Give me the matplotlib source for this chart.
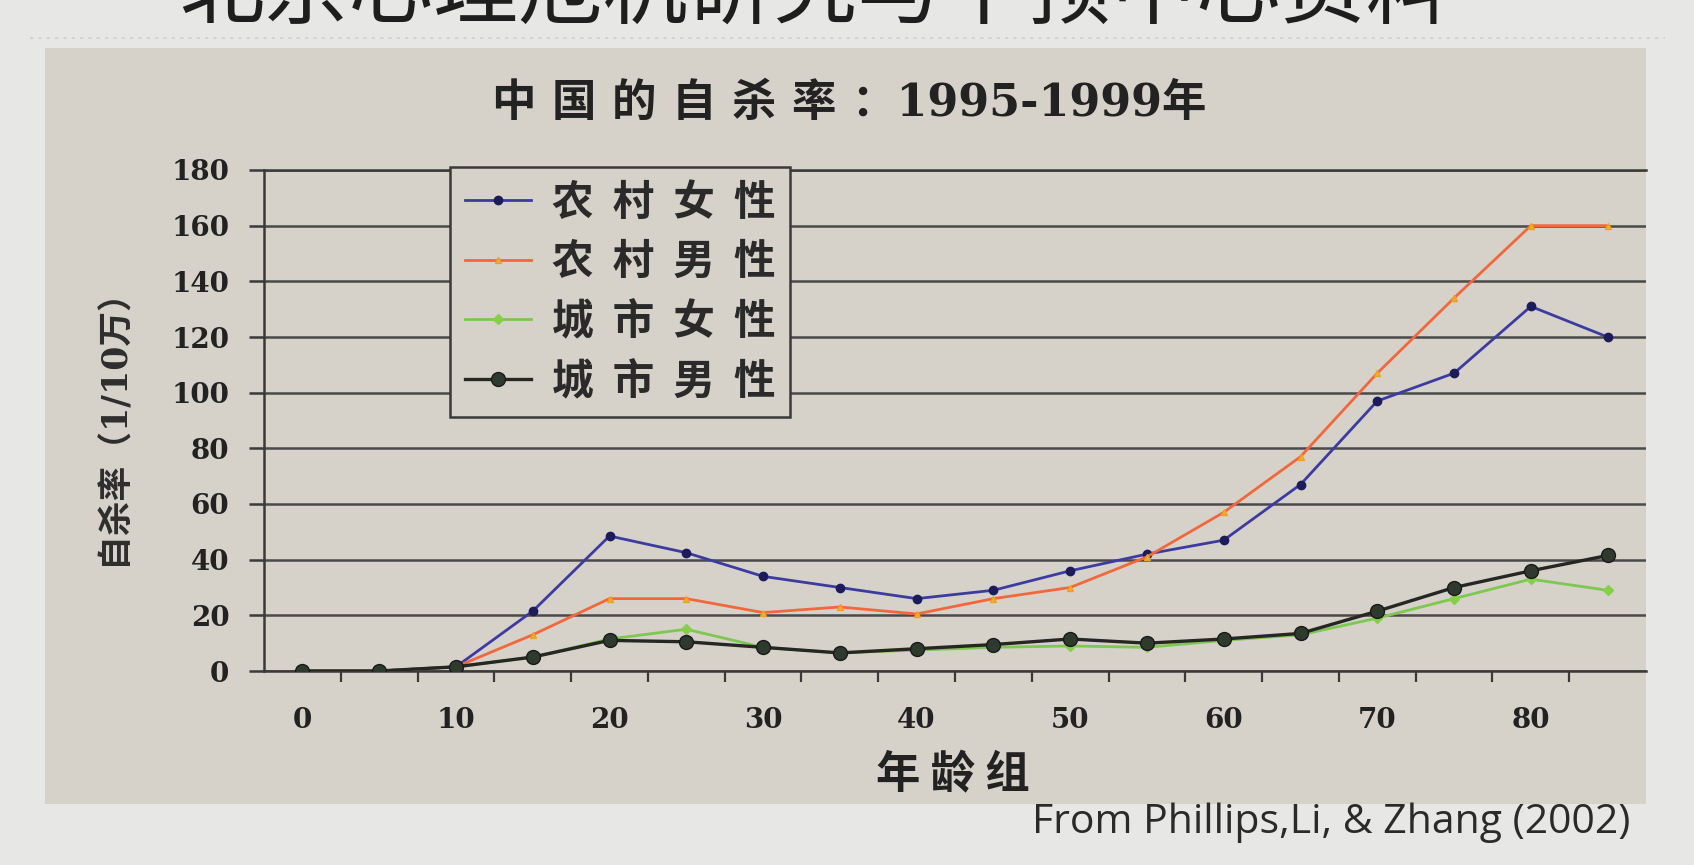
import matplotlib
matplotlib.use("Agg")
import matplotlib.pyplot as plt
from matplotlib.patches import Rectangle
from matplotlib.lines import Line2D

# data
ages = [0, 5, 10, 15, 20, 25, 30, 35, 40, 45, 50, 55, 60, 65, 70, 75, 80, 85]
rural_female = [0, 0, 1.5, 21.5, 48.5, 42.5, 34, 30, 26, 29, 36, 42, 47, 67, 97, 107, 131, 120]
rural_male = [0, 0, 1.5, 13, 26, 26, 21, 23, 20.5, 26, 30, 41, 57, 77, 107, 134, 160, 160]
urban_female = [0, 0, 1.5, 5, 11.5, 15, 8.5, 6.5, 7.5, 8.5, 9, 8.5, 11, 13, 19, 26, 33, 29]
urban_male = [0, 0, 1.5, 5, 11, 10.5, 8.5, 6.5, 8, 9.5, 11.5, 10, 11.5, 13.5, 21.5, 30, 36, 41.5]

series_names = ["农  村  女  性", "农  村  男  性", "城  市  女  性", "城  市  男  性"]
y_ticks = list(range(0, 181, 20))
x_label_ticks = list(range(0, 81, 10))

slide_title = "北京心理危机研究与干预中心资料"
chart_title = "中 国 的 自 杀 率 ：1995-1999年"
x_title = "年 龄 组"
y_title = "自杀率（1/10万）"
credit = "From Phillips,Li, & Zhang (2002)"

W, H = 1694, 865
slide_bg = "#e7e8e6"
panel_bg = "#d6d2ca"
ink = "#3a3a3a"

def fx(px):
    return px / W

def fy(py):
    return 1 - py / H

fig = plt.figure(figsize=(W / 100, H / 100), dpi=100)
fig.patch.set_facecolor(slide_bg)

# slide title, cut off by the top edge
fig.text(fx(815), 1.009, slide_title, ha="center", va="center", fontsize=61,
         family=["Noto Sans CJK SC"], color="#1e1e1e")
fig.add_artist(Line2D([fx(30), fx(1665)], [fy(38), fy(38)], color="#cfcfcf",
                      lw=1.2, ls=(0, (2, 3))))

# chart panel
fig.add_artist(Rectangle((fx(45), fy(804)), fx(1646) - fx(45), fy(48) - fy(804),
                         transform=fig.transFigure, facecolor=panel_bg,
                         edgecolor="none", zorder=0))

ax = fig.add_axes([fx(264), fy(671), fx(1646) - fx(264), fy(170) - fy(671)])
ax.set_facecolor("none")
ax.set_xlim(-2.5, 87.5)
ax.set_ylim(0, 180)

ax.grid(axis="y", color="#4a4a4a", lw=1.8)
ax.set_axisbelow(True)
ax.spines["right"].set_visible(False)
for s in ["left", "bottom", "top"]:
    ax.spines[s].set_color(ink)
    ax.spines[s].set_linewidth(1.8)

tick_font = {"family": "DejaVu Serif", "weight": "bold", "size": 20}
ax.set_yticks(y_ticks)
ax.set_yticklabels([str(v) for v in y_ticks], fontdict=tick_font, color="#222222")
ax.tick_params(axis="y", direction="out", length=11, width=1.8, color=ink, pad=14)
ax.set_xticks(x_label_ticks)
ax.set_xticklabels([str(v) for v in x_label_ticks], fontdict=tick_font, color="#222222")
ax.set_xticks([a + 2.5 for a in ages[:-1]], minor=True)
ax.tick_params(axis="x", which="major", length=0, pad=26)
ax.tick_params(axis="x", which="minor", direction="out", length=8, width=1.6, color=ink)

ax.plot(ages, rural_female, color="#3c3ca0", lw=2, marker="o", ms=6,
        mfc="#1c1c5c", mec="#1c1c5c", label=series_names[0], zorder=3)
ax.plot(ages, rural_male, color="#f2683c", lw=2, marker="^", ms=5,
        mfc="#f0b030", mec="#f0a020", label=series_names[1], zorder=4)
ax.plot(ages, urban_female, color="#7cc850", lw=2, marker="D", ms=5,
        mfc="#86d048", mec="#86d048", label=series_names[2], zorder=5)
ax.plot(ages, urban_male, color="#262622", lw=2.4, marker="o", ms=10,
        mfc="#2f3a2f", mec="#1a1a1a", label=series_names[3], zorder=6)

leg = ax.legend(loc="upper left", bbox_to_anchor=(fx(450), fy(167)),
                bbox_transform=fig.transFigure, borderaxespad=0,
                prop={"family": ["Noto Sans CJK SC"], "size": 30, "weight": "bold"},
                fancybox=False, framealpha=1, facecolor=panel_bg, edgecolor=ink,
                handlelength=1.6, handletextpad=0.5, labelspacing=0.42,
                borderpad=0.35)
leg.get_frame().set_linewidth(1.8)
for t in leg.get_texts():
    t.set_color("#2a2a2a")

fig.text(fx(849), fy(103), chart_title, ha="center", va="center", fontsize=32,
         family=["DejaVu Serif", "Noto Sans CJK SC"], weight="bold", color="#222222")
fig.text(fx(953), fy(775), x_title, ha="center", va="center", fontsize=32,
         family=["Noto Sans CJK SC"], weight="bold", color="#222222")
fig.text(fx(113), fy(418), y_title, ha="center", va="center", fontsize=25,
         rotation=90, family=["DejaVu Serif", "Noto Sans CJK SC"], weight="bold",
         color="#2e2e2e")
fig.text(fx(1032), fy(823), credit, ha="left", va="center", fontsize=29.5,
         family=["Open Sans"], color="#2a2a2a")

fig.savefig("out.png", dpi=100, facecolor=fig.get_facecolor())
